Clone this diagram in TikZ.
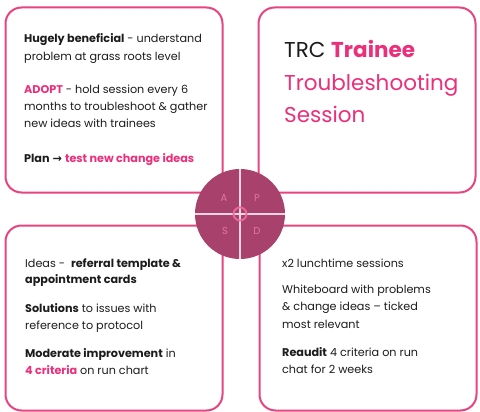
\documentclass[tikz,border=0pt]{standalone}
\usepackage{fontspec}
\setmainfont{Poppins}
\newfontfamily\arrowfont{DejaVu Sans}
\definecolor{pinkline}{HTML}{E8447F}
\definecolor{pinktext}{HTML}{EC2F7A}
\definecolor{discfill}{HTML}{A8426C}
\definecolor{discline}{HTML}{F4D6E1}
\definecolor{letterc}{HTML}{DE78A0}
\definecolor{bodytext}{HTML}{1C1C1C}
\newcommand\pk[1]{\textcolor{pinktext}{#1}}
\tikzset{
  panel/.style={draw=pinkline, line width=2pt, rounded corners=16pt, fill=white, minimum width=217pt, minimum height=185pt, inner sep=0pt},
  ln/.style={anchor=base west, inner sep=0pt, text=bodytext, font=\fontsize{11.2}{13}\selectfont},
  ttl/.style={anchor=base west, inner sep=0pt, text=bodytext, font=\fontsize{21.5}{25}\selectfont},
  letter/.style={text=letterc, font=\fontsize{10}{12}\selectfont, inner sep=0pt}
}
\begin{document}
\begin{tikzpicture}[x=1pt,y=-1pt]
\useasboundingbox (0,0) rectangle (480,412);
\fill[white] (0,0) rectangle (480,412);
% panels
\node[panel] (tl) at (114,100) {};
\node[panel] (tr) at (367,100) {};
\node[panel] (bl) at (114,318) {};
\node[panel] (br) at (368,318) {};
% top-left text
\node[ln] (a1) at (24,43) {\textbf{Hugely beneficial} - understand};
\node[ln] (a2) at (24,61) {problem at grass roots level};
\node[ln] (a3) at (24,94) {\pk{\textbf{ADOPT}} - hold session every 6};
\node[ln] (a4) at (24,111) {months to troubleshoot \& gather};
\node[ln] (a5) at (24,128) {new ideas with trainees};
\node[ln] (a6) at (24,162) {\textbf{Plan} {\arrowfont\bfseries →} \pk{\textbf{test new change ideas}}};
% title
\node[ttl] (t1) at (284,58) {TRC \pk{\textbf{Trainee}}};
\node[ttl] (t2) at (284,91) {\pk{Troubleshooting}};
\node[ttl] (t3) at (284,123) {\pk{Session}};
% bottom-left text
\node[ln] (b1) at (25,267) {Ideas -\ \ \textbf{referral template \&}};
\node[ln] (b2) at (25,283) {\textbf{appointment cards}};
\node[ln] (b3) at (25,312) {\textbf{Solutions} to issues with};
\node[ln] (b4) at (25,329) {reference to protocol};
\node[ln] (b5) at (25,357) {\textbf{Moderate improvement} in};
\node[ln] (b6) at (25,374) {\pk{\textbf{4 criteria}} on run chart};
% bottom-right text
\node[ln] (c1) at (282,267) {x2 lunchtime sessions};
\node[ln] (c2) at (282,293) {Whiteboard with problems};
\node[ln] (c3) at (282,310) {\& change ideas -- ticked};
\node[ln] (c4) at (282,328) {most relevant};
\node[ln] (c5) at (282,356) {\textbf{Reaudit} 4 criteria on run};
\node[ln] (c6) at (282,373) {chat for 2 weeks};
% central disc
\node[circle, fill=discfill, minimum size=90pt, inner sep=0pt] (disc) at (240,214) {};
\draw[discline, line width=1.6pt] (disc.north) -- (disc.south);
\draw[discline, line width=1.6pt] (disc.west) -- (disc.east);
\node[circle, draw=pinkline!80!white, line width=1.8pt, minimum size=13pt, inner sep=0pt] (ring) at (disc.center) {};
\node[letter] (lA) at (224,198) {A};
\node[letter] (lP) at (257,198) {P};
\node[letter] (lS) at (225,231) {S};
\node[letter] (lD) at (257,231) {D};
\end{tikzpicture}
\end{document}
